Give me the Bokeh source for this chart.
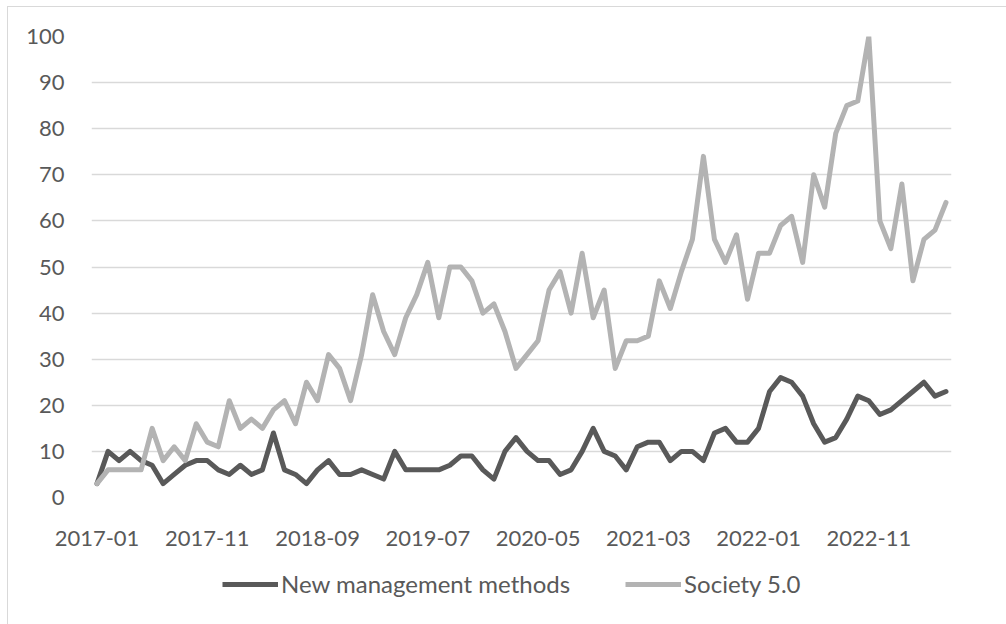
from bokeh.plotting import figure
from bokeh.layouts import column
from bokeh.models import Range1d, FixedTicker, Legend, LegendItem, ColumnDataSource
from bokeh.embed import file_html
from bokeh.resources import INLINE

# Monthly categories, 2017-01 .. 2023-06
months = [f"{2017 + i // 12}-{i % 12 + 1:02d}" for i in range(78)]

tick_labels = ["2017-01", "2017-11", "2018-09", "2019-07",
               "2020-05", "2021-03", "2022-01", "2022-11"]

y_ticks = [0, 10, 20, 30, 40, 50, 60, 70, 80, 90, 100]

new_management_methods = [
    3, 10, 8, 10, 8, 7, 3, 5, 7, 8,
    8, 6, 5, 7, 5, 6, 14, 6, 5, 3,
    6, 8, 5, 5, 6, 5, 4, 10, 6, 6,
    6, 6, 7, 9, 9, 6, 4, 10, 13, 10,
    8, 8, 5, 6, 10, 15, 10, 9, 6, 11,
    12, 12, 8, 10, 10, 8, 14, 15, 12, 12,
    15, 23, 26, 25, 22, 16, 12, 13, 17, 22,
    21, 18, 19, 21, 23, 25, 22, 23,
]

society_5_0 = [
    3, 6, 6, 6, 6, 15, 8, 11, 8, 16,
    12, 11, 21, 15, 17, 15, 19, 21, 16, 25,
    21, 31, 28, 21, 31, 44, 36, 31, 39, 44,
    51, 39, 50, 50, 47, 40, 42, 36, 28, 31,
    34, 45, 49, 40, 53, 39, 45, 28, 34, 34,
    35, 47, 41, 49, 56, 74, 56, 51, 57, 43,
    53, 53, 59, 61, 51, 70, 63, 79, 85, 86,
    100, 60, 54, 68, 47, 56, 58, 64,
]

series_names = ["New management methods", "Society 5.0"]
series_fields = ["nmm", "soc"]
series_colors = ["#595959", "#b3b3b3"]

idx = list(range(len(months)))
src = ColumnDataSource(dict(x=idx, month=months,
                            nmm=new_management_methods, soc=society_5_0))

FONT = "Lato"
TXT = "#595959"
BORDER = "1.5px solid #d9d9d9"

# ---------------- main chart ----------------
p = figure(width=999, height=554, margin=(6, 0, 0, 7),
           x_range=Range1d(-0.5, len(months) - 0.5),
           y_range=Range1d(0, 100),
           output_backend="svg", toolbar_location=None,
           min_border_left=83, min_border_right=56,
           min_border_top=29, min_border_bottom=64)
p.styles = {"border-left": BORDER, "border-top": BORDER}
p.outline_line_color = None
p.background_fill_color = "white"
p.border_fill_color = "white"

for field, col in zip(series_fields, series_colors):
    p.line("x", field, source=src, line_color=col, line_width=5,
           line_join="round", line_cap="round")

tick_pos = [months.index(t) for t in tick_labels]
p.xaxis.ticker = FixedTicker(ticks=tick_pos)
p.xaxis.major_label_overrides = {pos: lab for pos, lab in zip(tick_pos, tick_labels)}
p.xaxis.axis_line_color = None
p.xaxis.major_tick_line_color = None
p.xaxis.minor_tick_line_color = None
p.xaxis.major_tick_out = 0
p.xaxis.major_tick_in = 0
p.xaxis.major_label_standoff = 33
p.xaxis.major_label_text_font = FONT
p.xaxis.major_label_text_font_size = "22px"
p.xaxis.major_label_text_color = TXT

p.yaxis.ticker = FixedTicker(ticks=y_ticks)
p.yaxis.axis_line_color = None
p.yaxis.major_tick_line_color = None
p.yaxis.minor_tick_line_color = None
p.yaxis.major_tick_out = 0
p.yaxis.major_tick_in = 0
p.yaxis.major_label_standoff = 27
p.yaxis.major_label_text_font = FONT
p.yaxis.major_label_text_font_size = "22px"
p.yaxis.major_label_text_color = TXT

p.xgrid.grid_line_color = None
p.ygrid.ticker = FixedTicker(ticks=y_ticks)
p.ygrid.grid_line_color = "#d9d9d9"
p.ygrid.grid_line_width = 1.3

# ---------------- legend strip (frame aligned with the chart above) ----------------
lg = figure(width=999, height=64, margin=(0, 0, 0, 7),
            x_range=Range1d(-0.5, len(months) - 0.5), y_range=Range1d(-2, -1),
            x_axis_location=None, y_axis_location=None,
            output_backend="svg", toolbar_location=None,
            min_border_left=83, min_border_right=56,
            min_border_top=0, min_border_bottom=0)
lg.styles = {"border-left": BORDER}
lg.outline_line_color = None
lg.xgrid.visible = False
lg.ygrid.visible = False
lg.background_fill_color = "white"
lg.border_fill_color = "white"

items = []
for name, field, col in zip(series_names, series_fields, series_colors):
    # same series, drawn outside this strip's visible range: used only as legend keys
    r = lg.line("x", field, source=src, line_color=col, line_width=5)
    items.append(LegendItem(label=name, renderers=[r]))

legend = Legend(items=items, orientation="horizontal", location=(131, 26),
                border_line_color=None, background_fill_alpha=0,
                label_text_font=FONT, label_text_font_size="24px",
                label_text_color=TXT, glyph_width=56, glyph_height=20,
                label_standoff=3, spacing=55, padding=0, margin=0)
lg.add_layout(legend, "center")

layout = column(p, lg, spacing=0)
open("out.html", "w").write(file_html(layout, INLINE))
